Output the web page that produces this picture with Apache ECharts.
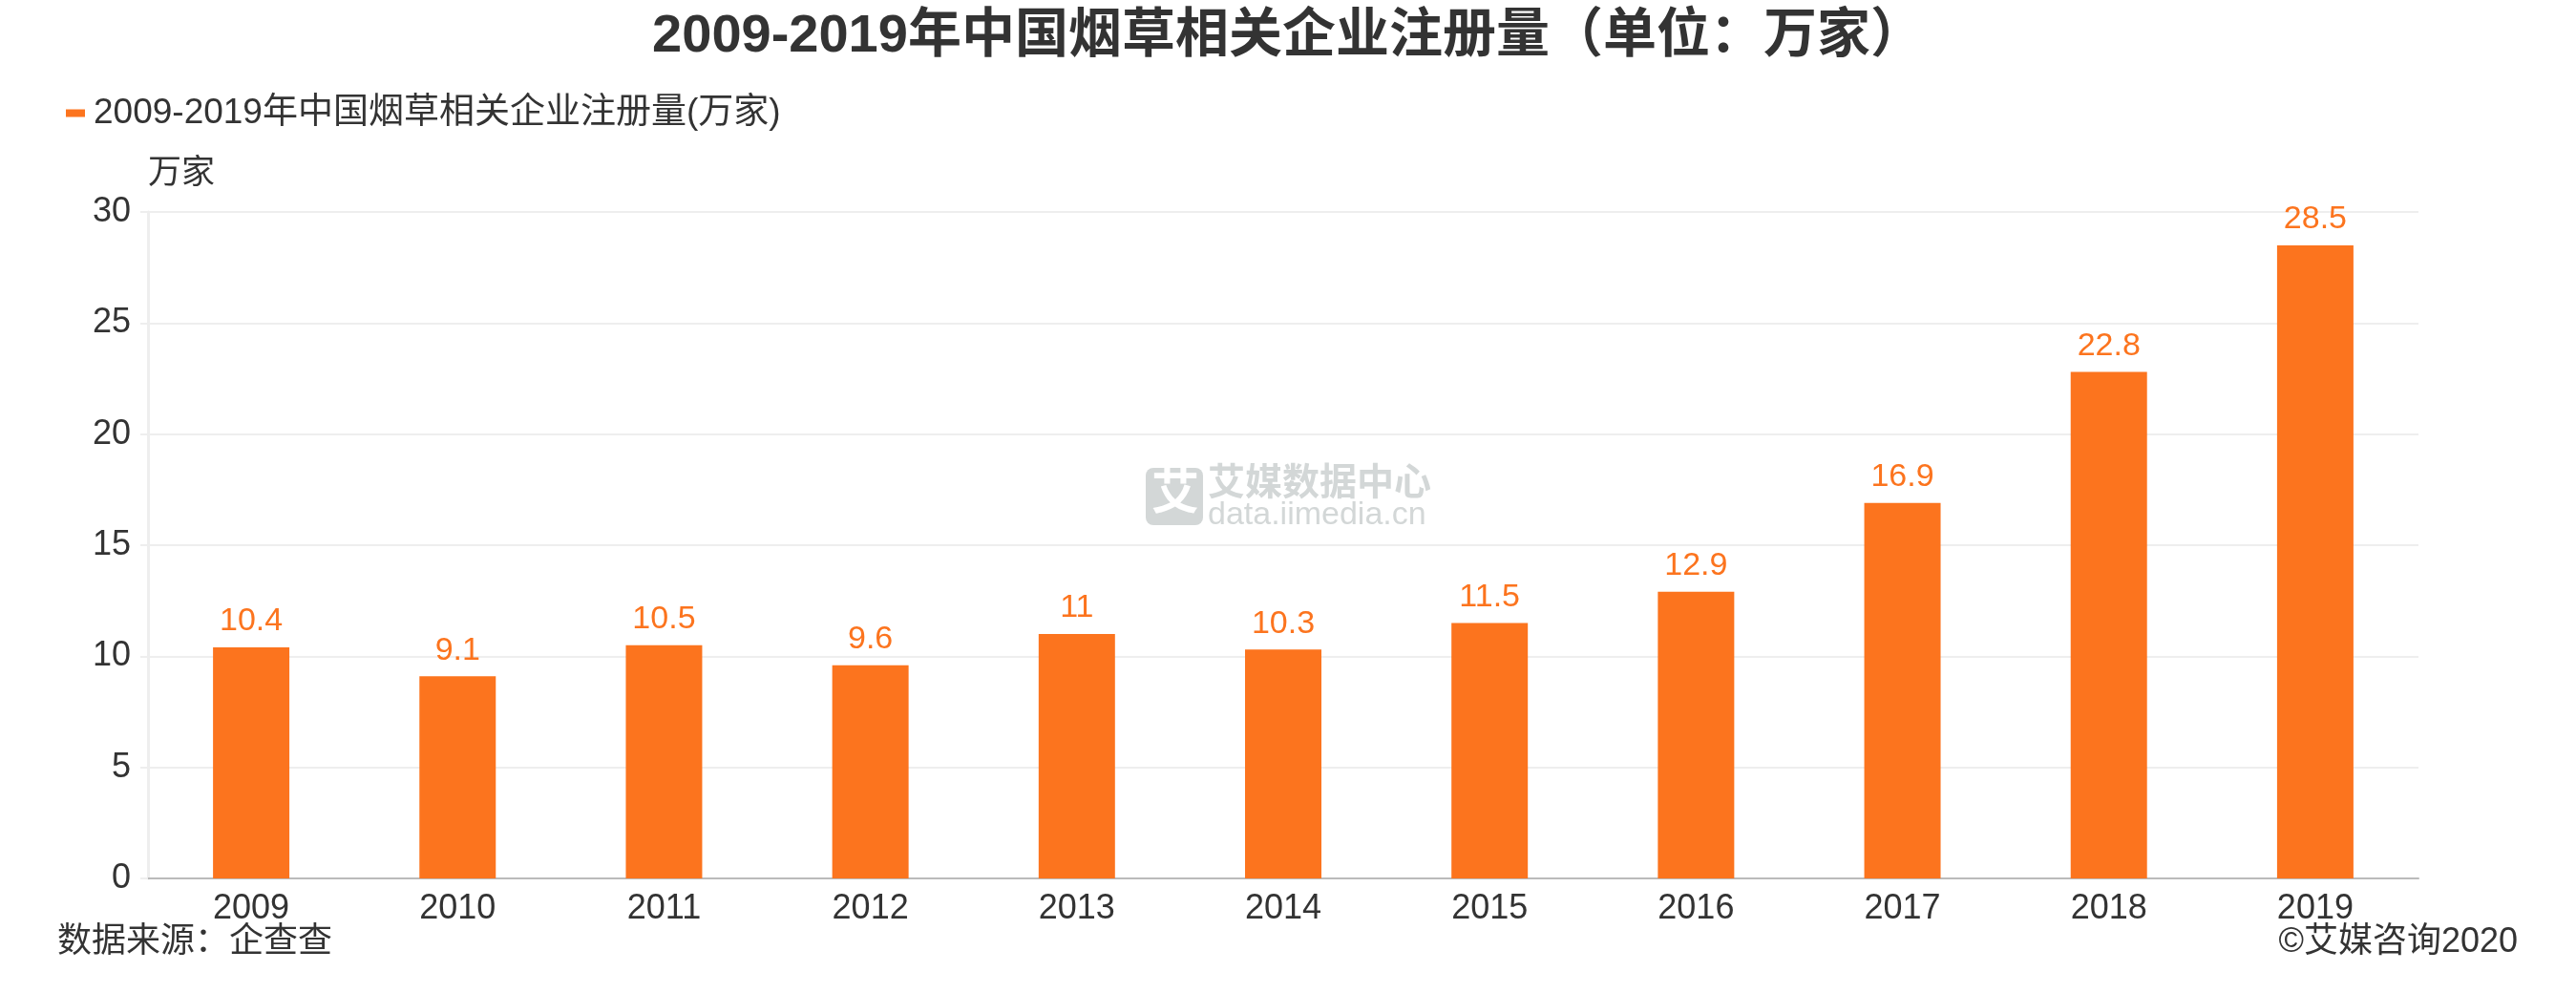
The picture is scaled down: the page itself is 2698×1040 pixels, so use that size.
<!DOCTYPE html>
<html><head><meta charset="utf-8">
<script src="https://cdn.jsdelivr.net/npm/echarts@6/dist/echarts.min.js"></script>
<style>html,body{margin:0;padding:0;background:#fff}#c{width:2698px;height:1040px}</style>
</head><body><div id="c"></div>
<script>
const categories = ['2009','2010','2011','2012','2013','2014','2015','2016','2017','2018','2019'];
const values = [10.4, 9.1, 10.5, 9.6, 11, 10.3, 11.5, 12.9, 16.9, 22.8, 28.5];
const seriesName = '2009-2019年中国烟草相关企业注册量(万家)';
const titleText = '2009-2019年中国烟草相关企业注册量（单位：万家）';
const yTicks = {min: 0, max: 30, interval: 5};
const FONT = '"Liberation Sans", "Noto Sans CJK SC", sans-serif';
const ORANGE = '#fc741e';
const chart = echarts.init(document.getElementById('c'));
chart.setOption({
  backgroundColor: '#fff',
  animation: false,
  title: {text: titleText, left: 'center', top: 6,
    textStyle: {fontSize: 56, fontWeight: 'bold', color: '#333', fontFamily: FONT}},
  legend: {left: 64, top: 95, icon: 'rect', itemWidth: 20, itemHeight: 8, itemGap: 10,
    textStyle: {fontSize: 37, color: '#333', fontFamily: FONT, padding: [0, 0, 0, 4]}},
  grid: {left: 155, right: 165, top: 222, bottom: 120},
  xAxis: {type: 'category', data: categories,
    axisLine: {lineStyle: {color: '#bbb', width: 2}},
    axisTick: {alignWithLabel: true, length: 9, lineStyle: {color: '#ccc', width: 2}},
    axisLabel: {fontSize: 36, color: '#333', margin: 14, fontFamily: FONT}},
  yAxis: {type: 'value', min: yTicks.min, max: yTicks.max, interval: yTicks.interval,
    name: '万家', nameLocation: 'end', nameGap: 40,
    nameTextStyle: {fontSize: 35, color: '#333', align: 'left', verticalAlign: 'middle', fontFamily: FONT},
    axisLine: {show: true, lineStyle: {color: '#eee', width: 3}},
    axisTick: {show: true, length: 8, lineStyle: {color: '#eee', width: 2}},
    splitLine: {lineStyle: {color: '#eee', width: 2}},
    axisLabel: {fontSize: 36, color: '#333', margin: 18, fontFamily: FONT}},
  graphic: [
    {type: 'rect', left: 1200, top: 490, shape: {width: 60, height: 60, r: 8}, style: {fill: '#d3d7d7'}, z: 0},
    {type: 'text', left: 1206, top: 494, style: {text: '艾', fontSize: 50, fontWeight: 'bold', fill: '#fff', fontFamily: FONT}, z: 1},
    {type: 'text', left: 1265, top: 488, style: {text: '艾媒数据中心', fontSize: 39, fontWeight: 'bold', fill: '#d3d7d7', fontFamily: FONT}, z: 0},
    {type: 'text', left: 1265, top: 523, style: {text: 'data.iimedia.cn', fontSize: 34, fill: '#d3d7d7', fontFamily: FONT}, z: 0},
    {type: 'text', left: 60, top: 969, style: {text: '数据来源：企查查', fontSize: 36, fill: '#333', fontFamily: FONT}},
    {type: 'text', right: 61, top: 969, style: {text: '©艾媒咨询2020', fontSize: 36, fill: '#333', fontFamily: FONT}}
  ],
  series: [{name: seriesName, type: 'bar', data: values, barWidth: '37%',
    itemStyle: {color: ORANGE},
    label: {show: true, position: 'top', distance: 10, fontSize: 34, color: ORANGE, fontFamily: FONT}}]
});
</script></body></html>
